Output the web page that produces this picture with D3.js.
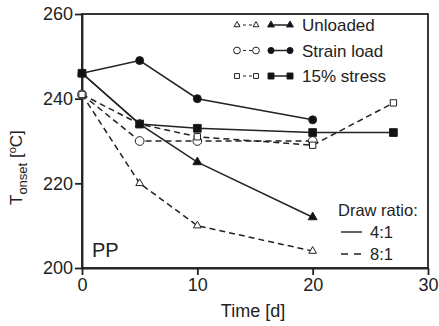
<!DOCTYPE html>
<meta charset="utf-8">
<html>
<head>
  <script src="https://d3js.org/d3.v7.min.js"></script>
  <style>
    body { margin: 0; background: #fff; }
    text { font-family: 'Liberation Sans', Arial, sans-serif; fill: #222; }
    .axis path, .axis line { stroke: #222; stroke-width: 1.8; }
    .axis text { font-size: 18px; }
  </style>
</head>
<body>
<script>
  // Data (time in days, T onset in degC)
  var xTicks = [0, 10, 20, 30];
  var yTicks = [200, 220, 240, 260];

  var unloadedDays = [0, 5, 10, 20];
  var unloaded41 = [246, 234, 225, 212];
  var unloaded81 = [241, 220, 210, 204];

  var strainDays = [0, 5, 10, 20];
  var strain41 = [246, 249, 240, 235];
  var strain81 = [241, 230, 230, 230];

  var stressDays = [0, 5, 10, 20, 27];
  var stress41 = [246, 234, 233, 232, 232];
  var stress81 = [241, 234, 231, 229, 239];

  var seriesNames = ['Unloaded', 'Strain load', '15% stress'];
  var ratioNames = ['4:1', '8:1'];

  var series = [
    { days: unloadedDays, vals: unloaded41, shape: 'tri', fill: true },
    { days: unloadedDays, vals: unloaded81, shape: 'tri', fill: false },
    { days: strainDays, vals: strain41, shape: 'circ', fill: true },
    { days: strainDays, vals: strain81, shape: 'circ', fill: false },
    { days: stressDays, vals: stress41, shape: 'sq', fill: true },
    { days: stressDays, vals: stress81, shape: 'sq', fill: false }
  ];

  var W = 439, H = 326;
  var m = { top: 14, right: 11, bottom: 58, left: 82 };
  var w = W - m.left - m.right, h = H - m.top - m.bottom;

  var svg = d3.select('body').append('svg')
    .attr('width', W).attr('height', H);
  var g = svg.append('g').attr('transform', `translate(${m.left},${m.top})`);

  var x = d3.scaleLinear().domain([0, 30]).range([0, w]);
  var y = d3.scaleLinear().domain([200, 260]).range([h, 0]);

  // frame
  g.append('rect').attr('width', w).attr('height', h)
    .attr('fill', 'none').attr('stroke', '#222').attr('stroke-width', 1.8);

  g.append('g').attr('class', 'axis')
    .attr('transform', `translate(0,${h})`)
    .call(d3.axisBottom(x).tickValues(xTicks).tickSize(7).tickPadding(3).tickSizeOuter(0));
  g.append('g').attr('class', 'axis')
    .call(d3.axisLeft(y).tickValues(yTicks).tickSize(7).tickPadding(2).tickSizeOuter(0));

  var sym = {
    tri: d3.symbol().type(d3.symbolTriangle),
    circ: d3.symbol().type(d3.symbolCircle),
    sq: d3.symbol().type(d3.symbolSquare)
  };
  function marker(sel, shape, fill, k) {
    k = k || 1;
    var size = { tri: fill ? 34 : 26, circ: fill ? 50 : 60, sq: fill ? 60 : 40 }[shape] * k;
    sel.attr('d', sym[shape].size(size)())
      .attr('fill', fill ? '#111' : '#fff')
      .attr('stroke', '#222').attr('stroke-width', 1);
  }

  var line = d3.line().x(d => x(d[0])).y(d => y(d[1]));

  // dashed first, solid on top
  var order = [1, 3, 5, 0, 2, 4];
  order.forEach(function (i) {
    var s = series[i];
    var pts = s.days.map((d, k) => [d, s.vals[k]]);
    g.append('path').datum(pts)
      .attr('d', line)
      .attr('fill', 'none').attr('stroke', '#222').attr('stroke-width', 1.5)
      .attr('stroke-dasharray', s.fill ? null : '6,4');
  });
  order.forEach(function (i) {
    var s = series[i];
    var pts = s.days.map((d, k) => [d, s.vals[k]]);
    g.selectAll(null).data(pts).enter().append('path')
      .attr('transform', d => `translate(${x(d[0])},${y(d[1])})`)
      .call(marker, s.shape, s.fill);
  });

  // legend top right
  var shapes = ['tri', 'circ', 'sq'];
  seriesNames.forEach(function (name, i) {
    var ly = 25 + i * 25.5;
    var lg = svg.append('g');
    lg.append('line').attr('x1', 237).attr('x2', 256).attr('y1', ly).attr('y2', ly)
      .attr('stroke', '#222').attr('stroke-width', 1).attr('stroke-dasharray', '3,3');
    lg.append('line').attr('x1', 271).attr('x2', 290).attr('y1', ly).attr('y2', ly)
      .attr('stroke', '#222').attr('stroke-width', 1.5);
    [237, 256].forEach(px => lg.append('path')
      .attr('transform', `translate(${px},${ly})`).call(marker, shapes[i], false, 0.6));
    [271, 290].forEach(px => lg.append('path')
      .attr('transform', `translate(${px},${ly})`).call(marker, shapes[i], true, 0.6));
    lg.append('text').attr('x', 302).attr('y', ly + 6)
      .style('font-size', '17px').text(name);
  });

  // draw ratio legend
  svg.append('text').attr('x', 338).attr('y', 216).style('font-size', '16.5px').text('Draw ratio:');
  ratioNames.forEach(function (name, i) {
    var ly = 232 + i * 22;
    svg.append('line').attr('x1', 341).attr('x2', 362).attr('y1', ly).attr('y2', ly)
      .attr('stroke', '#222').attr('stroke-width', 1.4)
      .attr('stroke-dasharray', i ? '7,6' : null);
    svg.append('text').attr('x', 370).attr('y', ly + 5.5).style('font-size', '16.5px').text(name);
  });

  // PP label
  g.append('text').attr('x', 10).attr('y', h - 11).style('font-size', '20px').text('PP');

  // axis titles
  svg.append('text').attr('x', m.left + w / 2 - 2).attr('y', 317)
    .attr('text-anchor', 'middle').style('font-size', '18px').text('Time [d]');

  var yl = svg.append('text')
    .attr('transform', `translate(22,205) rotate(-90)`)
    .style('font-size', '17px');
  yl.append('tspan').text('T');
  yl.append('tspan').attr('dy', 5).style('font-size', '13px').text('onset');
  yl.append('tspan').attr('dy', -5).text(' [');
  yl.append('tspan').attr('dy', -6).style('font-size', '11px').text('o');
  yl.append('tspan').attr('dy', 6).text('C]');
</script>
</body>
</html>
